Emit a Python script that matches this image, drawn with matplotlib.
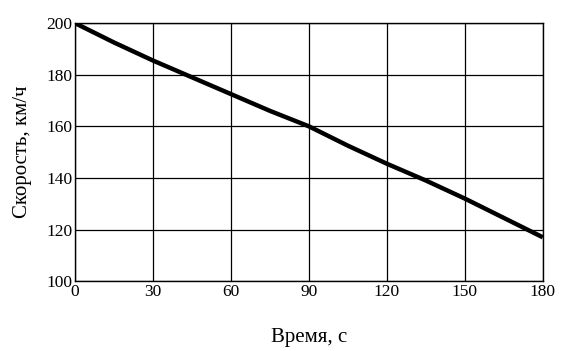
import matplotlib.pyplot as plt
import numpy as np

# Data
time_s = [0, 15, 30, 45, 60, 75, 90, 105, 120, 135, 150, 165, 180]
speed_kmh = [200, 192.5, 185.5, 179, 172.5, 166, 160, 152.5, 145.5, 139, 132, 124.5, 117]
x_ticks = [0, 30, 60, 90, 120, 150, 180]
y_ticks = [100, 120, 140, 160, 180, 200]

plt.rcParams['font.family'] = ['Liberation Serif', 'DejaVu Serif']

fig = plt.figure(figsize=(5.69, 3.51), dpi=100)
ax = fig.add_axes([0.132, 0.199, 0.822, 0.735])

ax.plot(time_s, speed_kmh, color='black', linewidth=3.2, solid_capstyle='butt')

ax.set_xlim(0, 180)
ax.set_ylim(100, 200)
ax.set_xticks(x_ticks)
ax.set_yticks(y_ticks)
ax.grid(True, color='black', linewidth=0.9)
ax.tick_params(length=0, labelsize=12.5, pad=2)
for s in ax.spines.values():
    s.set_color('black')
    s.set_linewidth(1)

ax.set_xlabel('Время, с', fontsize=15, labelpad=20)
ax.set_ylabel('Скорость, км/ч', fontsize=15, labelpad=10)

plt.savefig('out.png', dpi=100)
